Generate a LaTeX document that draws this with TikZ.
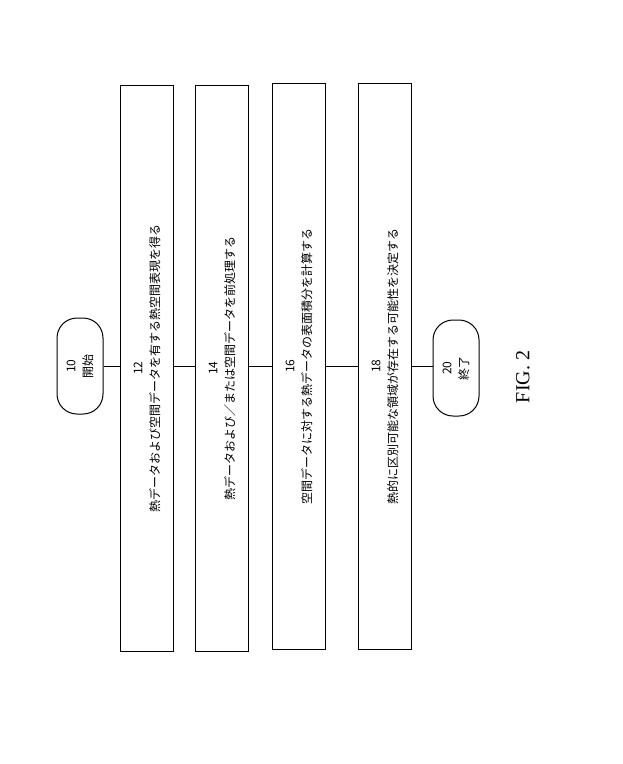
\documentclass[tikz,border=0pt]{standalone}
\usepackage{fontspec}
\setmainfont{Liberation Serif}
\newfontfamily\cjk{Noto Sans CJK JP}
\begin{document}
\begin{tikzpicture}[x=1pt,y=-1pt,
  stepbox/.style={draw,line width=1pt,minimum width=53pt,minimum height=566pt,inner sep=0pt},
  term/.style={draw,line width=1pt,rounded corners=20pt,minimum width=46pt,minimum height=96pt,inner sep=0pt},
  lbl/.style={rotate=90,align=center,font=\cjk\fontsize{12}{17}\selectfont},
  conn/.style={line width=0.6pt}]
\useasboundingbox (0,0) rectangle (622,764);
\node[term] (s) at (80,366) {};
\node[lbl] at (s.center) {10\\開始};
\node[stepbox] (b1) at (147,368) {};
\node[stepbox] (b2) at (222,368) {};
\node[stepbox] (b3) at (299,366) {};
\node[stepbox] (b4) at (385,366) {};
\node[term] (e) at (456,368) {};
\node[lbl] at (e.center) {20\\終了};
\node[lbl,anchor=center] at (147,368) {12\\熱データおよび空間データを有する熱空間表現を得る};
\node[lbl] at (222,368) {14\\熱データおよび／または空間データを前処理する};
\node[lbl] at (299,366) {16\\空間データに対する熱データの表面積分を計算する};
\node[lbl] at (385,366) {18\\熱的に区別可能な領域が存在する可能性を決定する};
\draw[conn] (s.east|-0,366) -- (b1.west|-0,366);
\draw[conn] (b1.east|-0,366) -- (b2.west|-0,366);
\draw[conn] (b2.east|-0,366) -- (b3.west|-0,366);
\draw[conn] (b3.east|-0,366) -- (b4.west|-0,366);
\draw[conn] (b4.east|-0,366) -- (e.west|-0,366);
\node[rotate=90,font=\fontsize{20}{22}\selectfont] (fig) at (523,377) {FIG. 2};
\end{tikzpicture}
\end{document}
